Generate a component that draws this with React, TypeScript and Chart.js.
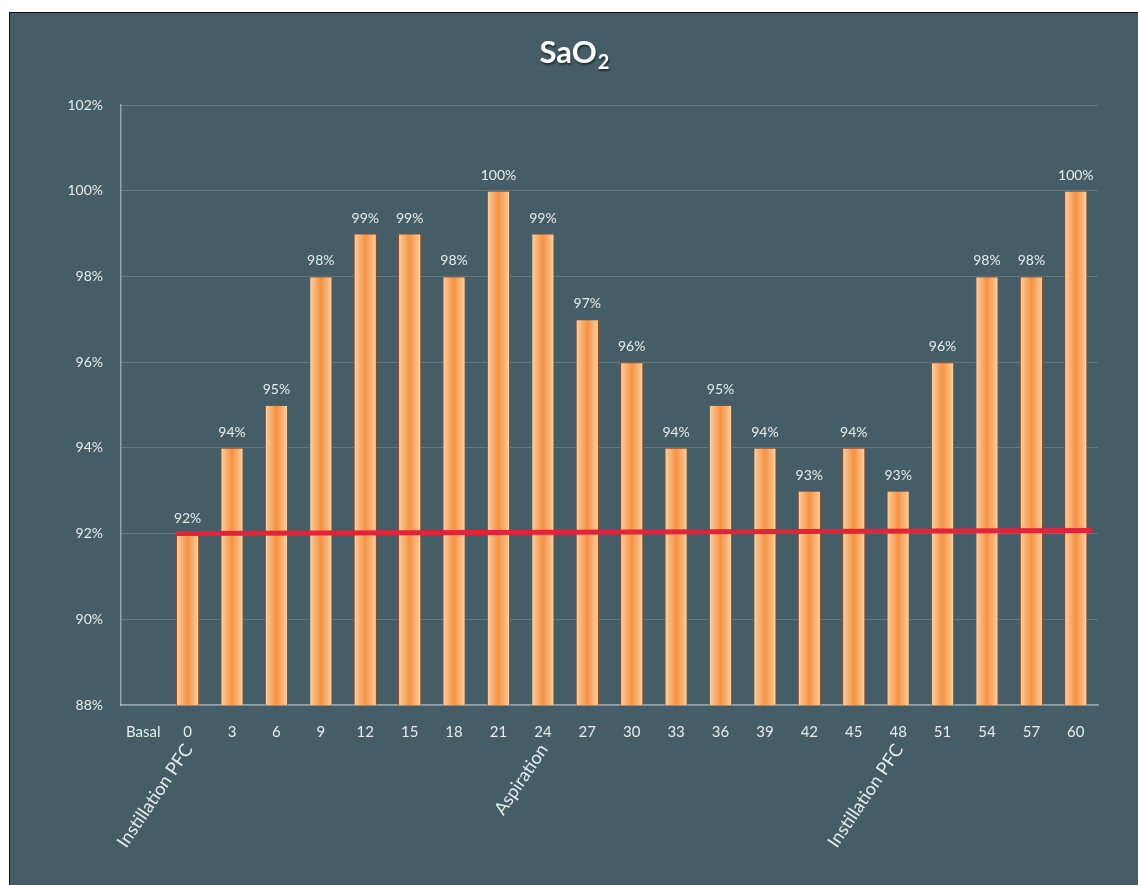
import React, { useEffect, useRef } from 'react';
import { Chart, registerables } from 'chart.js';

Chart.register(...registerables);

const CATEGORIES = ['Basal', '0', '3', '6', '9', '12', '15', '18', '21', '24', '27', '30', '33', '36', '39', '42', '45', '48', '51', '54', '57', '60'];
const SAO2 = [null, 92, 94, 95, 98, 99, 99, 98, 100, 99, 97, 96, 94, 95, 94, 93, 94, 93, 96, 98, 98, 100];
const Y_MIN = 88;
const Y_MAX = 102;
const Y_STEP = 2;
const THRESHOLD = [92, 92.07]; // value at start / end of red reference line
const PHASE_AT = ['0', '24', '48'];
const PHASE_LABELS = ['Instillation PFC', 'Aspiration', 'Instillation PFC'];
const TITLE_MAIN = 'SaO';
const TITLE_SUB = '2';

const FONT = 'Lato, "Open Sans", sans-serif';
const TEXT = '#e6ecee';
const BG = '#455d67';

const W = 1128;
const H = 872;

export default function App() {
  const ref = useRef<HTMLCanvasElement | null>(null);

  useEffect(() => {
    const canvas = ref.current;
    if (!canvas) return;

    const barPct = 0.52;

    const barGradient = (context: any) => {
      const chart = context.chart;
      const xs = chart.scales && chart.scales.x;
      const idx = context.dataIndex;
      if (!xs || idx === undefined || !chart.chartArea) return '#f59a4a';
      const step = xs.getPixelForValue(1) - xs.getPixelForValue(0);
      const cx = xs.getPixelForValue(idx);
      const half = (step * barPct) / 2;
      const g = chart.ctx.createLinearGradient(cx - half, 0, cx + half, 0);
      g.addColorStop(0, '#fde3b6');
      g.addColorStop(0.12, '#fbc28a');
      g.addColorStop(0.5, '#f59244');
      g.addColorStop(0.88, '#fbc28a');
      g.addColorStop(1, '#fde3b6');
      return g;
    };

    const bgPlugin = {
      id: 'bg',
      beforeDraw(chart: any) {
        const { ctx } = chart;
        ctx.save();
        ctx.fillStyle = BG;
        ctx.fillRect(0, 0, chart.width, chart.height);
        ctx.restore();
      },
    };

    const titlePlugin = {
      id: 'customTitle',
      afterDraw(chart: any) {
        const { ctx } = chart;
        ctx.save();
        ctx.fillStyle = '#ffffff';
        ctx.shadowColor = 'rgba(0,0,0,0.5)';
        ctx.shadowOffsetX = 1;
        ctx.shadowOffsetY = 2;
        ctx.shadowBlur = 2;
        ctx.textBaseline = 'alphabetic';
        ctx.font = `bold 31px ${FONT}`;
        const wMain = ctx.measureText(TITLE_MAIN).width;
        ctx.font = `bold 20px ${FONT}`;
        const wSub = ctx.measureText(TITLE_SUB).width;
        const x0 = chart.width / 2 - (wMain + wSub) / 2;
        ctx.textAlign = 'left';
        ctx.font = `bold 31px ${FONT}`;
        ctx.fillText(TITLE_MAIN, x0, 50);
        ctx.font = `bold 20px ${FONT}`;
        ctx.fillText(TITLE_SUB, x0 + wMain + 1, 56);
        ctx.restore();
      },
    };

    const overlayPlugin = {
      id: 'overlay',
      afterDatasetsDraw(chart: any) {
        const { ctx } = chart;
        const meta = chart.getDatasetMeta(0);
        const ys = chart.scales.y;
        const xs = chart.scales.x;
        const valid = meta.data.filter((_: any, i: number) => SAO2[i] !== null);
        const first = valid[0];
        const last = valid[valid.length - 1];
        ctx.save();
        ctx.strokeStyle = '#e3233a';
        ctx.lineWidth = 5;
        ctx.lineCap = 'butt';
        ctx.beginPath();
        ctx.moveTo(first.x - first.width / 2, ys.getPixelForValue(THRESHOLD[0]));
        ctx.lineTo(last.x + last.width / 2 + 5, ys.getPixelForValue(THRESHOLD[1]));
        ctx.stroke();
        ctx.restore();

        ctx.save();
        ctx.fillStyle = TEXT;
        ctx.font = `14px ${FONT}`;
        ctx.textAlign = 'center';
        ctx.textBaseline = 'alphabetic';
        meta.data.forEach((bar: any, i: number) => {
          const v = SAO2[i];
          if (v === null) return;
          ctx.fillText(`${v}%`, bar.x, bar.y - 11);
        });
        ctx.restore();

        ctx.save();
        ctx.fillStyle = TEXT;
        ctx.font = `18px ${FONT}`;
        ctx.textAlign = 'right';
        ctx.textBaseline = 'middle';
        PHASE_AT.forEach((cat, k) => {
          const idx = CATEGORIES.indexOf(cat);
          const x = xs.getPixelForValue(idx) + 1;
          const y = chart.chartArea.bottom + 41;
          ctx.save();
          ctx.translate(x, y);
          ctx.rotate((-56 * Math.PI) / 180);
          ctx.fillText(PHASE_LABELS[k], 0, 0);
          ctx.restore();
        });
        ctx.restore();
      },
    };

    const chart = new Chart(canvas, {
      type: 'bar',
      data: {
        labels: CATEGORIES,
        datasets: [
          {
            label: 'SaO2',
            data: SAO2 as any,
            backgroundColor: barGradient as any,
            borderColor: '#9b4d22',
            borderWidth: 1,
            borderSkipped: 'bottom',
            barPercentage: barPct,
            categoryPercentage: 1,
          },
        ],
      },
      options: {
        responsive: false,
        animation: false,
        devicePixelRatio: 1,
        layout: { padding: { top: 92, right: 40, bottom: 0, left: 0 } },
        plugins: {
          legend: { display: false },
          tooltip: { enabled: false },
          title: { display: false },
        },
        scales: {
          x: {
            offset: true,
            grid: { display: false, drawTicks: false },
            border: { display: true, color: 'rgba(210,220,225,0.55)', width: 1.5 },
            ticks: {
              color: TEXT,
              font: { family: FONT, size: 15 },
              padding: 18,
              maxRotation: 0,
              autoSkip: false,
            },
            afterFit(scale: any) {
              scale.height = 180;
            },
          },
          y: {
            min: Y_MIN,
            max: Y_MAX,
            grid: { color: 'rgba(255,255,255,0.17)', lineWidth: 1, drawTicks: false },
            border: { display: true, color: 'rgba(210,220,225,0.55)', width: 1.5 },
            ticks: {
              stepSize: Y_STEP,
              color: TEXT,
              font: { family: FONT, size: 14 },
              padding: 18,
              callback: (v: any) => `${v}%`,
            },
            afterFit(scale: any) {
              scale.width = 111;
            },
          },
        },
      },
      plugins: [bgPlugin, overlayPlugin, titlePlugin],
    });

    return () => chart.destroy();
  }, []);

  return (
    <div
      style={{
        position: 'fixed',
        left: 9,
        top: 12,
        right: 0,
        bottom: 0,
        borderTop: '1.5px solid #111',
        borderLeft: '1.5px solid #111',
        background: BG,
        overflow: 'hidden',
      }}
    >
      <canvas ref={ref} width={W} height={H} style={{ display: 'block', width: W, height: H }} />
    </div>
  );
}
